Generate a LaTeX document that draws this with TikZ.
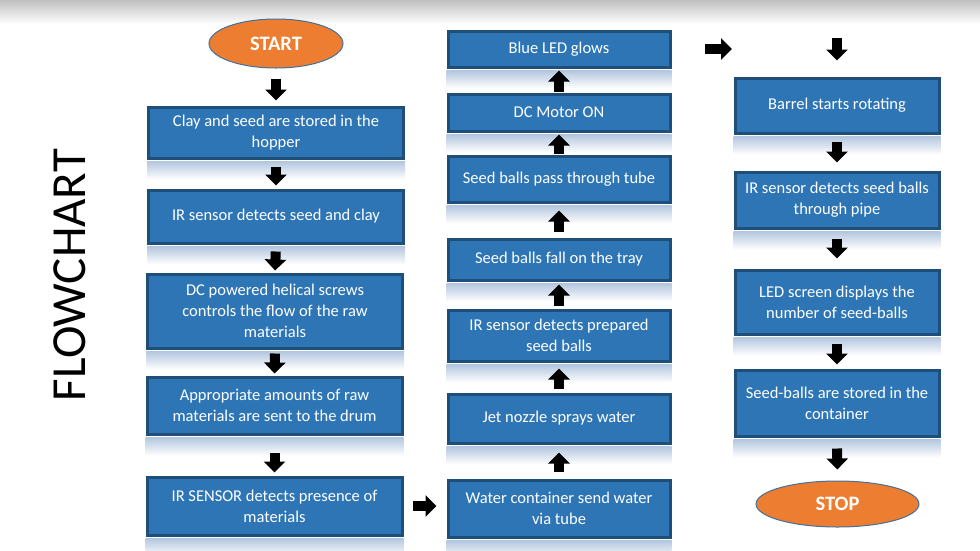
\documentclass[tikz,border=0pt]{standalone}
\usepackage{fontspec}
\setmainfont{Carlito}
\usetikzlibrary{arrows.meta,shapes.geometric,backgrounds}
\definecolor{boxfill}{RGB}{46,117,182}
\definecolor{boxline}{RGB}{31,78,121}
\definecolor{ovalfill}{RGB}{237,125,49}
\definecolor{ovalline}{RGB}{65,113,156}
\definecolor{refl}{RGB}{178,197,222}
\tikzset{
  procbox/.style={draw=boxline, line width=3pt, fill=boxfill, text=white, align=center,
    inner sep=0pt, font=\fontsize{16.5}{20.7}\selectfont},
  oval/.style={ellipse, draw=ovalline, line width=1pt, fill=ovalfill, text=white,
    inner sep=0pt, font=\fontsize{20.5}{24}\selectfont\bfseries},
  flow/.style={line width=10pt, black, -{Triangle[width=21pt,length=11pt]}},
  reflstrip/.style={top color=refl, bottom color=white, draw=none},
  title/.style={font=\fontsize{49}{55}\selectfont, text=black, rotate=90, inner sep=0pt}
}
\begin{document}
\begin{tikzpicture}[x=1pt,y=-1pt]
\useasboundingbox (0,0) rectangle (980,550);
\shade[top color=black!25, bottom color=white] (0,0) rectangle (980,24);

\node[title] (ttl) at (70,275) {FLOWCHART};

% column 1
\node[oval, minimum width=134pt, minimum height=49pt] (start) at (276,43.5) {START};
\node[procbox, minimum width=255pt, minimum height=51pt] (c1) at (276,132.5) {Clay and seed are stored in the\\hopper};
\node[procbox, minimum width=255pt, minimum height=53pt] (c2) at (276,216.5) {IR sensor detects seed and clay};
\node[procbox, minimum width=255pt, minimum height=74pt] (c3) at (275,311) {DC powered helical screws\\controls the flow of the raw\\materials};
\node[procbox, minimum width=255pt, minimum height=57pt] (c4) at (274.5,405.5) {Appropriate amounts of raw\\materials are sent to the drum};
\node[procbox, minimum width=255pt, minimum height=58pt] (c5) at (274.5,506) {IR SENSOR detects presence of\\materials};

% column 2
\node[procbox, minimum width=222pt, minimum height=57pt] (water) at (559,508.5) {Water container send water\\via tube};
\node[procbox, minimum width=222pt, minimum height=49pt] (jet) at (559,418.5) {Jet nozzle sprays water};
\node[procbox, minimum width=222pt, minimum height=51pt] (irp) at (559,335.5) {IR sensor detects prepared\\seed balls};
\node[procbox, minimum width=222pt, minimum height=41pt] (fall) at (559,259.5) {Seed balls fall on the tray};
\node[procbox, minimum width=222pt, minimum height=46pt] (pass) at (559,179) {Seed balls pass through tube};
\node[procbox, minimum width=222pt, minimum height=37pt] (dc) at (559,112.5) {DC Motor ON};
\node[procbox, minimum width=222pt, minimum height=36pt] (blue) at (559,49) {Blue LED glows};

% column 3
\node[procbox, minimum width=204pt, minimum height=55pt] (barrel) at (837,105.5) {Barrel starts rotating};
\node[procbox, minimum width=204pt, minimum height=56pt] (irpipe) at (837,200) {IR sensor detects seed balls\\through pipe};
\node[procbox, minimum width=204pt, minimum height=64pt] (led) at (837,302) {LED screen displays the\\number of seed-balls};
\node[procbox, minimum width=204pt, minimum height=66pt] (stored) at (837,403) {Seed-balls are stored in the\\container};
\node[oval, minimum width=163pt, minimum height=46pt] (stop) at (837.5,504) {STOP};

% reflections
\begin{pgfonlayer}{background}
\foreach \n in {c1,c2,c3,c4,c5,water,jet,irp,fall,pass,dc,blue,barrel,irpipe,led,stored}{
  \shade[reflstrip] ([yshift=-1.5pt]\n.south west) rectangle ([yshift=-20pt]\n.south east);
}
\end{pgfonlayer}

\coordinate (rt) at (732,49);
\coordinate (dn) at (837,38);

% connectors
\draw[flow, shorten <=10pt, shorten >=5pt] (start.south) -- (c1.north);
\draw[flow, shorten <=7pt, shorten >=3pt] (c1.south) -- (c2.north);
\draw[flow, shorten <=7pt, shorten >=2pt] (c2.south) -- (c3.north);
\draw[flow, shorten <=4pt, shorten >=2pt] (c3.south) -- (c4.north);
\draw[flow, shorten <=17pt, shorten >=3pt] (c4.south) -- (c5.north);
\draw[flow, shorten <=9pt, shorten >=10pt] (c5.east) -- (c5.east -| water.west);
\draw[flow, shorten <=7pt, shorten >=8pt] (water.north) -- (jet.south);
\draw[flow, shorten <=4pt, shorten >=6pt] (jet.north) -- (irp.south);
\draw[flow, shorten <=3pt, shorten >=3pt] (irp.north) -- (fall.south);
\draw[flow, shorten <=6pt, shorten >=7pt] (fall.north) -- (pass.south);
\draw[flow, shorten <=1pt, shorten >=2pt] (pass.north) -- (dc.south);
\draw[flow, shorten <=1pt, shorten >=2pt] (dc.north) -- (blue.south);
\draw[flow, shorten <=33pt] (blue.east) -- (rt);
\draw[flow, shorten >=16pt] (dn) -- (barrel.north);
\draw[flow, shorten <=7pt, shorten >=8pt] (barrel.south) -- (irpipe.north);
\draw[flow, shorten <=9pt, shorten >=10pt] (irpipe.south) -- (led.north);
\draw[flow, shorten <=8pt, shorten >=4pt] (led.south) -- (stored.north);
\draw[flow, shorten <=11pt, shorten >=11pt] (stored.south) -- (stop.north);
\end{tikzpicture}
\end{document}
